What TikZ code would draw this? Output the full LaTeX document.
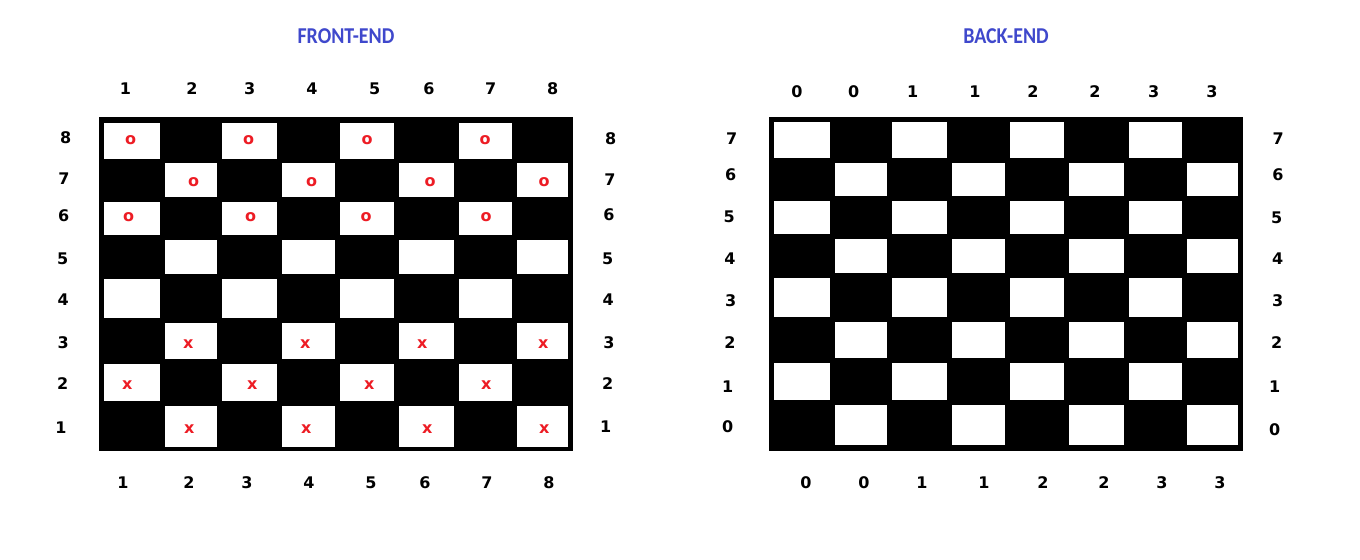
\documentclass[tikz,border=0pt]{standalone}
\usepackage{fontspec}
\setmainfont{DejaVu Sans}
\newfontfamily\titlefont{Carlito}
\definecolor{titleblue}{HTML}{3F48CC}
\definecolor{markred}{HTML}{ED1C24}
\begin{document}
\begin{tikzpicture}[x=0.75pt,y=-0.75pt,
  lbl/.style={font=\bfseries\fontsize{12}{14}\selectfont, inner sep=0pt, anchor=center},
  piece/.style={font=\bfseries\fontsize{12}{14}\selectfont, text=markred, inner sep=0pt, anchor=center},
  ttl/.style={font=\titlefont\bfseries\fontsize{17}{20}\selectfont, text=titleblue, inner sep=0pt, anchor=center, xscale=0.88},
  board/.style={fill=black},
  wcell/.style={fill=white}]
\useasboundingbox (0,0) rectangle (1360,560);
\fill[white] (0,0) rectangle (1360,560);

% titles
\node[ttl] (tfront) at (346,36) {FRONT-END};
\node[ttl] (tback) at (1006,36) {BACK-END};

% left board
\fill[board] (99,117) rectangle (573,451);
\foreach \xa/\xb [count=\j] in {104/160,165/217,222/277,282/335,340/394,399/454,459/512,517/568} {
  \foreach \ya/\yb [count=\i] in {123/159,163/197,202/235,240/274,279/318,323/359,364/401,406/447} {
    \pgfmathtruncatemacro{\cellpar}{mod(\i+\j,2)}
    \ifnum\cellpar=0 \fill[wcell] (\xa,\ya) rectangle (\xb,\yb); \fi
  }
}

% right board
\fill[board] (769,117) rectangle (1243,451);
\foreach \xa/\xb [count=\j] in {774/830,835/887,892/947,952/1005,1010/1064,1069/1124,1129/1182,1187/1238} {
  \foreach \ya/\yb [count=\i] in {122/158,163/196,201/234,239/273,278/317,322/358,363/400,405/445} {
    \pgfmathtruncatemacro{\cellpar}{mod(\i+\j,2)}
    \ifnum\cellpar=0 \fill[wcell] (\xa,\ya) rectangle (\xb,\yb); \fi
  }
}

% pieces o
\foreach \px/\py [count=\k] in {130.7/139.7,248.7/139.7,367/139.7,485/139.7,
  193.7/181.7,311.7/181.7,430/181.7,544/181.7,
  128.7/217.2,250.7/217.2,366/217.2,486/217.2}
  \node[piece] (o\k) at (\px,\py) {o};
% pieces x
\foreach \px/\py [count=\k] in {188.3/344.3,305.3/344.3,422.3/344.3,543.3/344.3,
  127.3/385.3,252.3/385.3,369.3/385.3,486.3/385.3,
  189.3/429.3,306.3/429.3,427.3/429.3,544.3/429.3}
  \node[piece] (x\k) at (\px,\py) {x};

% left board labels
\foreach \lx/\t [count=\k] in {125.4/1,192/2,249.6/3,312/4,374.6/5,429/6,490.8/7,552.7/8}
  \node[lbl] (lt\k) at (\lx,88.5) {\t};
\foreach \lx/\t [count=\k] in {123/1,189/2,247/3,309/4,371/5,425/6,487/7,549/8}
  \node[lbl] (lb\k) at (\lx,483) {\t};
\foreach \lx/\ly/\t [count=\k] in {65.7/137.7/8,64/179/7,63.7/215.7/6,62.7/259/5,63.3/300/4,63.3/342.7/3,62.7/383.3/2,61/427.3/1}
  \node[lbl] (ll\k) at (\lx,\ly) {\t};
\foreach \lx/\ly/\t [count=\k] in {610.7/138.3/8,610/179.3/7,609/215/6,607.7/258.3/5,608.3/299.3/4,609/342.7/3,607.7/383.3/2,605.7/426.7/1}
  \node[lbl] (lr\k) at (\lx,\ly) {\t};

% right board labels
\foreach \lx/\t [count=\k] in {797/0,853.8/0,912.7/1,975/1,1033/2,1095/2,1153.8/3,1212/3}
  \node[lbl] (rt\k) at (\lx,91.5) {\t};
\foreach \lx/\t [count=\k] in {806/0,864/0,922/1,984/1,1043/2,1104/2,1162/3,1220/3}
  \node[lbl] (rb\k) at (\lx,483) {\t};
\foreach \lx/\ly/\t [count=\k] in {731.7/138.3/7,730.7/175/6,729.3/216.7/5,730/259/4,730.7/301/3,730/342.7/2,727.7/386.7/1,727.7/426.7/0}
  \node[lbl] (rl\k) at (\lx,\ly) {\t};
\foreach \lx/\ly/\t [count=\k] in {1278.3/138.3/7,1278/175/6,1276.7/217.3/5,1277.7/259/4,1277.7/301/3,1276.7/342.7/2,1274.7/386.7/1,1274.7/430/0}
  \node[lbl] (rr\k) at (\lx,\ly) {\t};
\end{tikzpicture}
\end{document}
